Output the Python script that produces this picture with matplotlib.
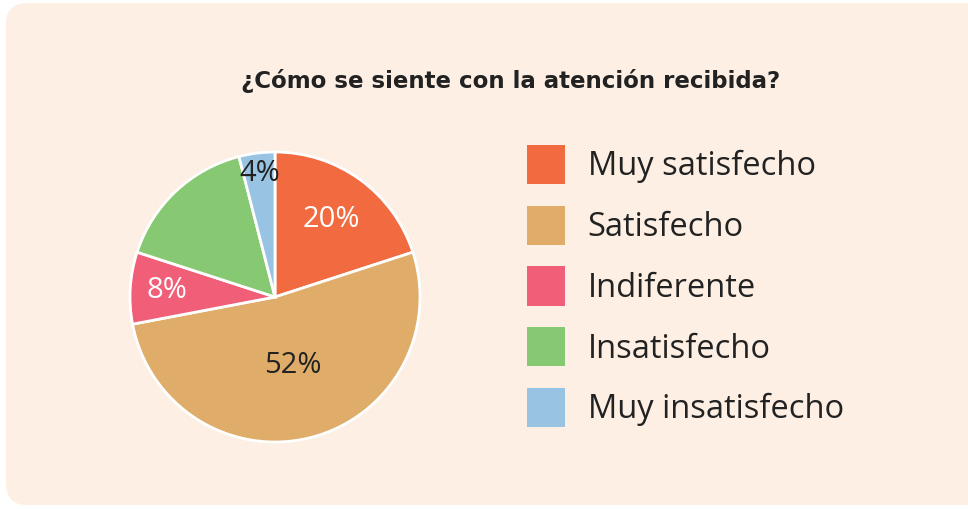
import matplotlib
matplotlib.use("Agg")
import matplotlib.pyplot as plt
from matplotlib.patches import FancyBboxPatch, Patch
import numpy as np

categories = ["Muy satisfecho", "Satisfecho", "Indiferente", "Insatisfecho", "Muy insatisfecho"]
values = [20, 52, 8, 16, 4]
value_labels = ["20%", "52%", "8%", "", "4%"]
colors = ["#F26A3F", "#DFAD69", "#F05E78", "#87C872", "#98C3E3"]
label_colors = ["white", "#222222", "white", "white", "#222222"]
label_radius = [0.66, 0.49, 0.75, 0.6, 0.86]
title = "¿Cómo se siente con la atención recibida?"

W, H = 968, 509
plt.rcParams['font.family'] = ['Open Sans', 'DejaVu Sans']
fig = plt.figure(figsize=(W / 100, H / 100), dpi=100, facecolor="white")

bg = FancyBboxPatch((6 / W, 4 / H), (W + 20) / W, 502 / H,
                    boxstyle="round,pad=0,rounding_size=0.022",
                    transform=fig.transFigure, facecolor="#FDEFE3",
                    edgecolor="none", zorder=-10, mutation_aspect=W / H)
fig.patches.append(bg)

cx, cy, r = 275, 297, 145
ax = fig.add_axes([(cx - r) / W, (H - cy - r) / H, 2 * r / W, 2 * r / H])
ax.set_zorder(5)
ax.patch.set_alpha(0)
wedges, _ = ax.pie(values, colors=colors, startangle=90, counterclock=False,
                   wedgeprops=dict(edgecolor="white", linewidth=2))
ax.set_xlim(-1, 1)
ax.set_ylim(-1, 1)
ax.set_aspect("equal")
ax.axis("off")

for w, lab, c, rr in zip(wedges, value_labels, label_colors, label_radius):
    if not lab:
        continue
    ang = np.deg2rad((w.theta1 + w.theta2) / 2)
    ax.text(rr * np.cos(ang), rr * np.sin(ang), lab, ha="center", va="center",
            fontsize=21, color=c)

fig.text(511 / W, 1 - 81 / H, title, ha="center", va="center",
         fontsize=16.5, fontweight="bold", color="#222222", zorder=6,
         family=["DejaVu Sans"])

handles = [Patch(facecolor=c, edgecolor="none") for c in colors]
leg = fig.legend(handles, categories, loc="upper left",
                 bbox_to_anchor=(527 / W, 1 - 145 / H), frameon=False,
                 fontsize=23.5, handlelength=1.16, handleheight=1.47,
                 labelspacing=0.66, handletextpad=0.7, borderpad=0,
                 borderaxespad=0, labelcolor="#222222")
leg.set_zorder(6)

fig.savefig("out.png", dpi=100, facecolor="white")
